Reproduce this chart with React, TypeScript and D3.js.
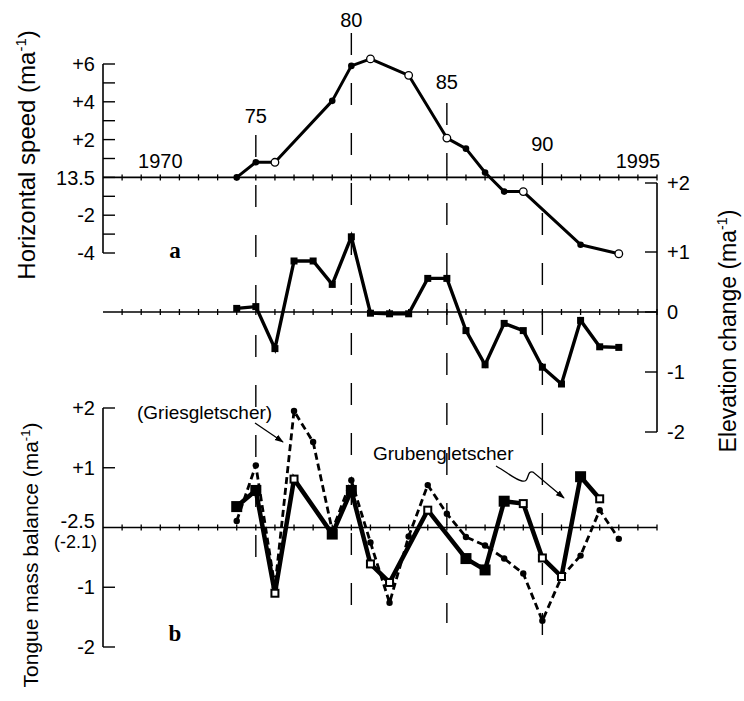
import React from "react";
import * as d3 from "d3";

// ---------- DATA ----------
const speedYears = [1974, 1975, 1976, 1979, 1980, 1981, 1983, 1985, 1986, 1987, 1988, 1989, 1992, 1994];
const speedValues = [0, 0.8, 0.8, 4.05, 5.9, 6.27, 5.4, 2.08, 1.52, 0.26, -0.75, -0.75, -3.56, -4.04];
const speedFilled = [true, true, false, true, true, false, false, false, true, true, true, false, true, false];

const elevYears = d3.range(1974, 1995);
const elevValues = [0.06, 0.09, -0.61, 0.85, 0.85, 0.46, 1.22, -0.02, -0.03, -0.03, 0.56, 0.56, -0.31, -0.88, -0.19, -0.31, -0.92, -1.2, -0.14, -0.58, -0.59];

const grubenYears = [1974, 1975, 1976, 1977, 1979, 1980, 1981, 1982, 1984, 1986, 1987, 1988, 1989, 1990, 1991, 1992, 1993];
const grubenValues = [0.35, 0.62, -1.1, 0.81, -0.11, 0.62, -0.61, -0.92, 0.29, -0.52, -0.71, 0.44, 0.4, -0.51, -0.82, 0.85, 0.48];
const grubenFilled = [true, true, false, false, true, true, false, false, false, true, true, true, false, false, false, true, false];

const griesYears = d3.range(1974, 1995);
const griesValues = [0.11, 1.04, -1.0, 1.95, 1.43, -0.05, 0.79, -0.25, -1.26, -0.15, 0.71, 0.23, -0.16, -0.3, -0.52, -0.77, -1.56, -0.83, -0.47, 0.29, -0.19];

const speedTicks = [6, 4, 2, 0, -2, -4];
const speedTickLabels = ["+6", "+4", "+2", "13.5", "-2", "-4"];
const elevTicks = [2, 1, 0, -1, -2];
const elevTickLabels = ["+2", "+1", "0", "-1", "-2"];
const massTicks = [2, 1, -1, -2];
const massTickLabels = ["+2", "+1", "-1", "-2"];
const yearLabels = ["1970", "75", "80", "85", "90", "1995"];
const yearLabelYears = [1970, 1975, 1980, 1985, 1990, 1995];
const markerYears = [1975, 1980, 1985, 1990];

// ---------- LAYOUT ----------
const W = 744;
const H = 701;
const xLeft = 103;
const xRight = 657;
const FONT = "'Liberation Sans', Arial, Helvetica, sans-serif";
const SERIF = "'Liberation Serif', 'Times New Roman', serif";

const x = d3.scaleLinear().domain([1967, 1996]).range([xLeft, xRight]);
const ySpeed = d3.scaleLinear().domain([-4, 6]).range([253, 64]);
const yElev = d3.scaleLinear().domain([-2, 0, 1, 2]).range([432, 312, 252, 183]);
const yMass = d3.scaleLinear().domain([-2, 2]).range([647, 408]);

// baselines of the year labels (staggered as in the original)
const yearLabelBaseline: Record<number, number> = { 1970: 168, 1975: 123, 1980: 27, 1985: 89, 1990: 151, 1995: 168 };
// extent of dashed year marker lines
const markerExtent: Record<number, [number, number]> = {
  1975: [135, 560],
  1980: [33, 610],
  1985: [103, 623],
  1990: [163, 638],
};

function YearAxis({ y0 }: { y0: number }) {
  const years = d3.range(1968, 1997);
  return (
    <g>
      <line x1={xLeft} x2={xRight} y1={y0} y2={y0} stroke="#000" strokeWidth={1.6} />
      {years.map((yr) => (
        <line key={yr} x1={x(yr)} x2={x(yr)} y1={y0 - 3} y2={y0 + 3} stroke="#000" strokeWidth={1.3} />
      ))}
    </g>
  );
}

function Title({ x: tx, y: ty, text, size }: { x: number; y: number; text: string; size: number }) {
  return (
    <text
      transform={`translate(${tx},${ty}) rotate(-90)`}
      textAnchor="middle"
      fontFamily={FONT}
      fontSize={size}
      fill="#000"
    >
      {text} (ma
      <tspan fontSize={size * 0.62} dy={-size * 0.38}>-1</tspan>
      <tspan dy={size * 0.38}>)</tspan>
    </text>
  );
}

export default function App() {
  const speedPts = speedYears.map((yr, i) => ({ yr, v: speedValues[i], f: speedFilled[i] }));
  const elevPts = elevYears.map((yr, i) => ({ yr, v: elevValues[i] }));
  const grubenPts = grubenYears.map((yr, i) => ({ yr, v: grubenValues[i], f: grubenFilled[i] }));
  const griesPts = griesYears.map((yr, i) => ({ yr, v: griesValues[i] }));

  const speedLine = d3.line<{ yr: number; v: number }>().x((d) => x(d.yr)).y((d) => ySpeed(d.v));
  const elevLine = d3.line<{ yr: number; v: number }>().x((d) => x(d.yr)).y((d) => yElev(d.v));
  const massLine = d3.line<{ yr: number; v: number }>().x((d) => x(d.yr)).y((d) => yMass(d.v));

  return (
    <svg width={W} height={H} style={{ position: "absolute", left: 0, top: 0, background: "#fff" }}>
      <defs>
        <marker id="arr" viewBox="0 0 10 10" refX="9" refY="5" markerWidth="9" markerHeight="9" orient="auto" markerUnits="userSpaceOnUse">
          <path d="M0,1.5 L10,5 L0,8.5 Z" fill="#000" />
        </marker>
      </defs>

      {/* dashed year markers */}
      {markerYears.map((yr) => (
        <line
          key={yr}
          x1={x(yr)}
          x2={x(yr)}
          y1={markerExtent[yr][0]}
          y2={markerExtent[yr][1]}
          stroke="#000"
          strokeWidth={1.4}
          strokeDasharray="22 28"
        />
      ))}

      {/* year labels */}
      {yearLabels.map((t, i) => (
        <text
          key={t}
          x={x(yearLabelYears[i])}
          y={yearLabelBaseline[yearLabelYears[i]]}
          textAnchor="middle"
          fontFamily={FONT}
          fontSize={20}
        >
          {t}
        </text>
      ))}

      {/* ---- panel a: horizontal speed ---- */}
      <line x1={xLeft} x2={xLeft} y1={ySpeed(6)} y2={ySpeed(-4)} stroke="#000" strokeWidth={1.6} />
      {d3.range(-4, 7).map((v) => (
        <line key={v} x1={xLeft} x2={xLeft + 12} y1={ySpeed(v)} y2={ySpeed(v)} stroke="#000" strokeWidth={1.4} />
      ))}
      {speedTicks.map((v, i) => (
        <text key={v} x={95} y={ySpeed(v)} dy="0.36em" textAnchor="end" fontFamily={FONT} fontSize={20}>
          {speedTickLabels[i]}
        </text>
      ))}
      <YearAxis y0={ySpeed(0)} />
      <path d={speedLine(speedPts) || ""} fill="none" stroke="#000" strokeWidth={3} strokeLinejoin="round" />
      {speedPts.map((p) => (
        <circle
          key={p.yr}
          cx={x(p.yr)}
          cy={ySpeed(p.v)}
          r={p.f ? 3.3 : 3.8}
          fill={p.f ? "#000" : "#fff"}
          stroke="#000"
          strokeWidth={p.f ? 0 : 1.3}
        />
      ))}
      <text x={175} y={258} textAnchor="middle" fontFamily={SERIF} fontWeight="bold" fontSize={23}>a</text>

      {/* ---- elevation change ---- */}
      <YearAxis y0={yElev(0)} />
      <line x1={xRight} x2={xRight} y1={yElev(2)} y2={yElev(-2)} stroke="#000" strokeWidth={1.6} />
      {elevTicks.map((v, i) => (
        <g key={v}>
          <line x1={xRight - 12} x2={xRight} y1={yElev(v)} y2={yElev(v)} stroke="#000" strokeWidth={1.4} />
          <text x={667} y={yElev(v)} dy="0.36em" textAnchor="start" fontFamily={FONT} fontSize={20}>
            {elevTickLabels[i]}
          </text>
        </g>
      ))}
      <path d={elevLine(elevPts) || ""} fill="none" stroke="#000" strokeWidth={3.4} strokeLinejoin="miter" />
      {elevPts.map((p) => (
        <rect key={p.yr} x={x(p.yr) - 3.5} y={yElev(p.v) - 3.5} width={7} height={7} fill="#000" />
      ))}

      {/* ---- panel b: tongue mass balance ---- */}
      <line x1={xLeft} x2={xLeft} y1={yMass(2)} y2={yMass(-2)} stroke="#000" strokeWidth={1.6} />
      {massTicks.map((v, i) => (
        <g key={v}>
          <line x1={xLeft} x2={xLeft + 12} y1={yMass(v)} y2={yMass(v)} stroke="#000" strokeWidth={1.4} />
          <text x={95} y={yMass(v)} dy="0.36em" textAnchor="end" fontFamily={FONT} fontSize={20}>
            {massTickLabels[i]}
          </text>
        </g>
      ))}
      <text x={95} y={yMass(0) - 7} dy="0.36em" textAnchor="end" fontFamily={FONT} fontSize={20}>-2.5</text>
      <text x={97} y={yMass(0) + 14} dy="0.36em" textAnchor="end" fontFamily={FONT} fontSize={18}>(-2.1)</text>
      <YearAxis y0={yMass(0)} />

      {/* Griesgletscher dashed */}
      <path d={massLine(griesPts) || ""} fill="none" stroke="#000" strokeWidth={2.8} strokeDasharray="7 4" />
      {griesPts.map((p) => (
        <circle key={p.yr} cx={x(p.yr)} cy={yMass(p.v)} r={3.2} fill="#000" />
      ))}

      {/* Grubengletscher solid */}
      <path d={massLine(grubenPts) || ""} fill="none" stroke="#000" strokeWidth={4.5} strokeLinejoin="miter" />
      {grubenPts.map((p) =>
        p.f ? (
          <rect key={p.yr} x={x(p.yr) - 5.5} y={yMass(p.v) - 5.5} width={11} height={11} fill="#000" />
        ) : (
          <rect key={p.yr} x={x(p.yr) - 3.5} y={yMass(p.v) - 3.5} width={7} height={7} fill="#fff" stroke="#000" strokeWidth={2} />
        )
      )}

      {/* annotations */}
      <text x={137} y={419} fontFamily={FONT} fontSize={19}>(Griesgletscher)</text>
      <line x1={255} y1={423} x2={283} y2={442} stroke="#000" strokeWidth={1.3} markerEnd="url(#arr)" />
      <text x={373} y={460} fontFamily={FONT} fontSize={19}>Grubengletscher</text>
      <path
        d="M496,466 C508,473 516,480 522,481 C530,483 526,470 533,472 L564,498"
        fill="none"
        stroke="#000"
        strokeWidth={1.3}
        markerEnd="url(#arr)"
      />
      <text x={175} y={641} textAnchor="middle" fontFamily={SERIF} fontWeight="bold" fontSize={23}>b</text>

      {/* axis titles */}
      <Title x={35} y={155} text="Horizontal speed" size={24} />
      <Title x={38} y={555} text="Tongue mass balance" size={21} />
      <Title x={736} y={331} text="Elevation change" size={23} />
    </svg>
  );
}
